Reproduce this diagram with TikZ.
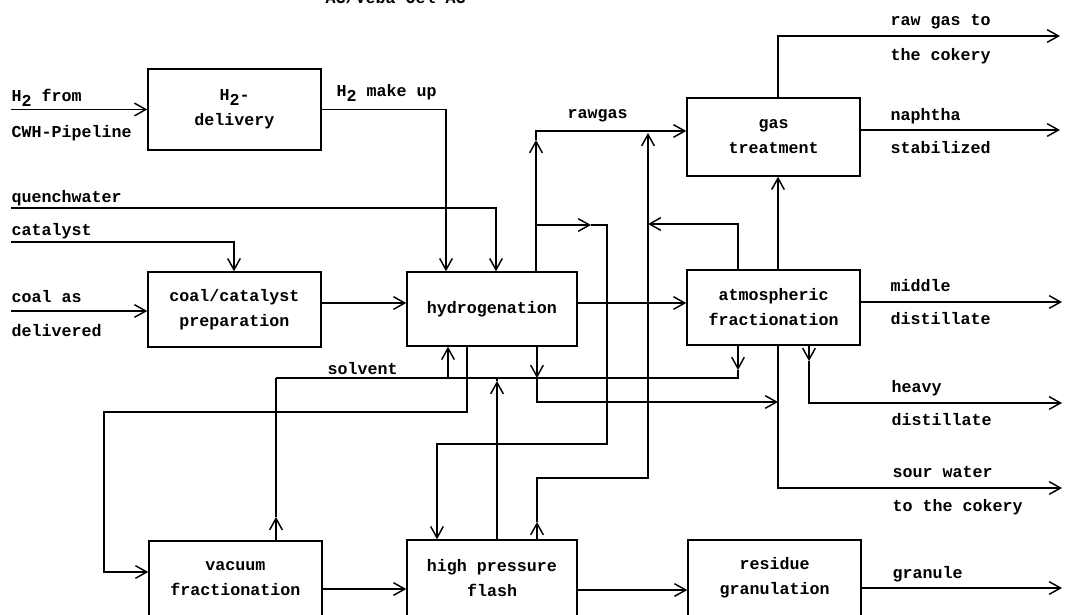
\documentclass[tikz,border=0pt]{standalone}
\usepackage{fontspec}
\setmonofont{Liberation Mono}
\usetikzlibrary{arrows.meta}
\newcommand\subtwo{\raisebox{-0.3em}{2}}
\begin{document}
\begin{tikzpicture}[x=0.75pt,y=-0.75pt,
  every node/.style={font=\ttfamily\bfseries\fontsize{12.5pt}{18.75pt}\selectfont},
  box/.style={draw, line width=1.1pt, inner sep=0pt, align=center},
  lbl/.style={anchor=base west, inner sep=0pt},
  arr/.style={-{Straight Barb[length=8.5pt,width=9.5pt]}},
  line width=1.1pt]
\useasboundingbox (0,0) rectangle (1066,614);
\fill[white] (0,0) rectangle (1066,614);

% header (cut off at the top, as in the reference)
\node[lbl] (hdr) at (325,3) {AG/Veba Oel AG};

% boxes
\node[box, minimum width=129.75pt, minimum height=60.75pt] (h2d) at (234.5,109.5) {H\subtwo-\\delivery};
\node[box, minimum width=129.75pt, minimum height=56.25pt] (coal) at (234.5,309.5) {coal/catalyst\\preparation};
\node[box, minimum width=129.75pt, minimum height=56.25pt] (vac) at (235.5,578.5) {vacuum\\fractionation};
\node[box, minimum width=127.5pt, minimum height=55.5pt] (hyd) at (492,309) {hydrogenation};
\node[box, minimum width=127.5pt, minimum height=57pt] (hpf) at (492,578) {high pressure\\flash};
\node[box, minimum width=129.75pt, minimum height=58.5pt] (gas) at (773.5,137) {gas\\treatment};
\node[box, minimum width=129.75pt, minimum height=56.25pt] (atm) at (773.5,307.5) {atmospheric\\fractionation};
\node[box, minimum width=129.75pt, minimum height=57pt] (res) at (774.5,578) {residue\\granulation};

% labels
\node[lbl] (t1) at (11,101) {H\subtwo{} from};
\node[lbl] (t2) at (11,137) {CWH-Pipeline};
\node[lbl] (t3) at (336,96) {H\subtwo{} make up};
\node[lbl] (t4) at (11,202) {quenchwater};
\node[lbl] (t5) at (11,235) {catalyst};
\node[lbl] (t6) at (11,302) {coal as};
\node[lbl] (t7) at (11,336) {delivered};
\node[lbl] (t8) at (327,374) {solvent};
\node[lbl] (t9) at (567,118) {rawgas};
\node[lbl] (t10) at (890,25) {raw gas to};
\node[lbl] (t11) at (890,60) {the cokery};
\node[lbl] (t12) at (890,120) {naphtha};
\node[lbl] (t13) at (890,153) {stabilized};
\node[lbl] (t14) at (890,291) {middle};
\node[lbl] (t15) at (890,324) {distillate};
\node[lbl] (t16) at (891,392) {heavy};
\node[lbl] (t17) at (891,425) {distillate};
\node[lbl] (t18) at (892,477) {sour water};
\node[lbl] (t19) at (892,511) {to the cokery};
\node[lbl] (t20) at (892,578) {granule};

% free ends
\coordinate (inH2) at (11,109.5);
\coordinate (inQW) at (11,208);
\coordinate (inCat) at (11,242);
\coordinate (inCoal) at (11,311);
\coordinate (outRaw) at (1060,36);
\coordinate (outNaph) at (1060,130);
\coordinate (outMid) at (1062,302);
\coordinate (outHeavy) at (1062,403);
\coordinate (outSour) at (1062,488);
\coordinate (outGran) at (1062,588);

% inputs
\draw[arr] (inH2) -- (h2d.west);
\draw[arr] (h2d.east) -| (446,0 |- hyd.north);
\draw[arr] (inQW) -| (496,0 |- hyd.north);
\draw[arr] (inCat) -| (234,0 |- coal.north);
\draw[arr] (inCoal) -- (inCoal -| coal.west);
\draw[arr] (coal.east |- 0,303) -- (hyd.west |- 0,303);
\draw[arr] (hyd.east |- 0,303) -- (atm.west |- 0,303);

% rawgas
\draw[arr] (536,0 |- hyd.north) -- (536,140);
\draw[arr] (536,140) |- (gas.west |- 0,131);
% branch to high pressure flash
\draw[arr] (536,225) -- (591,225);
\draw[arr] (591,225) -| (607,444) -| (437,0 |- hpf.north);
% flash gas up
\draw[arr] (537,0 |- hpf.north) -- (537,522);
\draw[arr] (537,522) |- (648,478) -- (648,133);
% atm to gas line
\draw[arr] (738,0 |- atm.north) |- (648,224);
\draw[arr] (778,0 |- atm.north) -- (778,0 |- gas.south);

% outputs
\draw[arr] (778,0 |- gas.north) |- (outRaw);
\draw[arr] (gas.east |- outNaph) -- (outNaph);
\draw[arr] (atm.east |- outMid) -- (outMid);
\draw[arr] (809,0 |- atm.south) -- (809,361);
\draw[arr] (809,361) |- (outHeavy);
\draw[arr] (778,0 |- atm.south) |- (outSour);
\draw[arr] (hpf.east |- 0,590) -- (res.west |- 0,590);
\draw[arr] (res.east |- outGran) -- (outGran);

% solvent network
\draw[arr] (537,0 |- hyd.south) -- (537,378);
\draw[arr] (537,378) |- (778,402);
\draw[arr] (738,0 |- atm.south) -- (738,370);
\draw (738,370) |- (276,378);
\draw[arr] (276,0 |- vac.north) -- (276,517);
\draw (276,517) -- (276,378);
\draw[arr] (448,378) -- (448,0 |- hyd.south);
\draw[arr] (497,0 |- hpf.north) -- (497,381);
\draw (497,381) -- (497,378);

% to vacuum fractionation
\draw[arr] (467,0 |- hyd.south) |- (104,412) |- (vac.west |- 0,572);
\draw[arr] (vac.east |- 0,589) -- (hpf.west |- 0,589);
\end{tikzpicture}
\end{document}
